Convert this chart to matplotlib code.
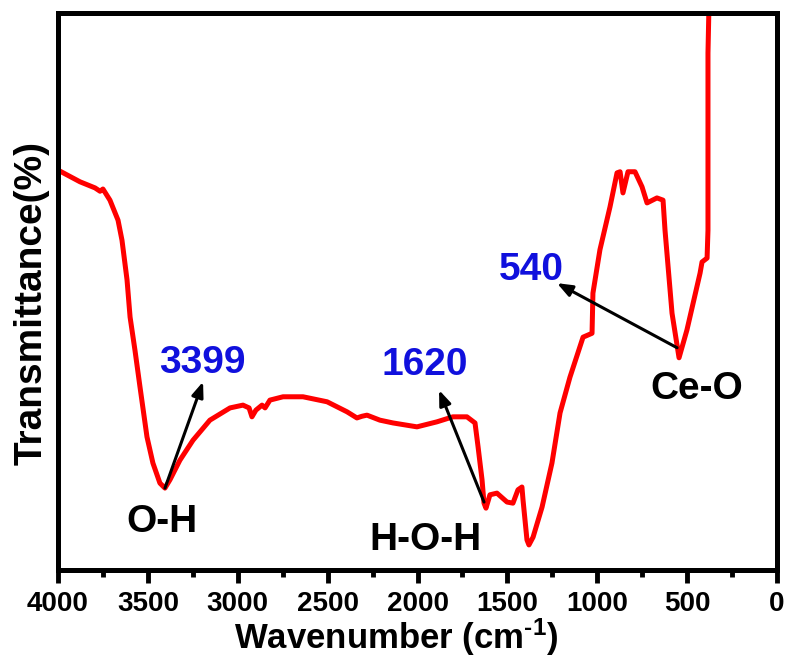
import matplotlib
matplotlib.use("Agg")
import matplotlib.pyplot as plt
from matplotlib.ticker import MultipleLocator

plt.rcParams['font.family'] = ['Liberation Sans', 'DejaVu Sans']
plt.rcParams['font.weight'] = 'bold'
plt.rcParams['mathtext.fontset'] = 'custom'
plt.rcParams['mathtext.rm'] = 'Liberation Sans:bold'
plt.rcParams['mathtext.default'] = 'rm'

# FTIR spectrum (arbitrary transmittance units, 0-100)
wavenumber = [4000, 3878, 3794, 3766, 3750, 3711, 3666, 3644, 3616, 3599,
              3572, 3544, 3505, 3472, 3433, 3405, 3377, 3322, 3249, 3155,
              3043, 2971, 2937, 2921, 2899, 2865, 2848, 2821, 2748, 2637,
              2503, 2392, 2337, 2309, 2281, 2209, 2136, 2003, 1892, 1803,
              1725, 1680, 1663, 1641, 1630, 1619, 1597, 1558, 1502, 1469,
              1441, 1419, 1413, 1391, 1380, 1357, 1307, 1252, 1207, 1152,
              1079, 1029, 1024, 985, 929, 890, 873, 857, 829, 790,
              751, 723, 668, 634, 623, 584, 545, 501, 428, 417,
              389, 384, 384, 378]
transmittance = [71.8, 69.7, 68.6, 68.0, 68.4, 66.4, 62.8, 59.2, 52.1, 45.4,
                 39.5, 32.9, 23.9, 19.2, 15.6, 14.7, 16.2, 19.7, 23.3, 26.9,
                 29.1, 29.6, 29.1, 27.5, 28.7, 29.6, 29.1, 30.5, 31.1, 31.1,
                 30.2, 28.4, 27.3, 27.6, 27.8, 26.9, 26.4, 25.7, 26.6, 27.5,
                 27.5, 26.4, 22.1, 16.2, 12.0, 11.1, 13.5, 13.8, 12.2, 12.0,
                 14.4, 14.9, 12.6, 5.4, 4.5, 5.9, 11.3, 19.2, 28.2, 34.6,
                 41.8, 42.5, 49.7, 57.5, 65.2, 71.3, 71.5, 67.7, 71.5, 71.5,
                 68.8, 65.9, 66.8, 66.4, 61.0, 46.1, 38.1, 43.1, 53.3, 55.3,
                 56.0, 61.0, 92.8, 102.0]

# peak annotations: label, label position, arrow tail, arrow head
peak_labels = ['3399', '1620', '540']
peak_text_xy = [(3199, 37.2), (1958, 36.8), (1369, 53.9)]
arrow_tail = [(3405, 14.7), (1630, 12.2), (556, 39.9)]
arrow_head = [(3193, 33.8), (1880, 32.3), (1224, 51.5)]

bond_labels = ['O-H', 'H-O-H', 'Ce-O']
bond_xy = [(3421, 8.6), (1958, 5.4), (445, 32.5)]

fig = plt.figure(figsize=(7.85, 6.61), dpi=100)
ax = fig.add_axes([58/785, 1 - 570/661, (777 - 58)/785, (570 - 13)/661])

ax.plot(wavenumber, transmittance, color='#ff0000', lw=3.6, solid_joinstyle='round')

ax.set_xlim(4000, 0)
ax.set_ylim(0, 100)
ax.xaxis.set_major_locator(MultipleLocator(500))
ax.xaxis.set_minor_locator(MultipleLocator(250))
ax.tick_params(axis='x', which='major', direction='out', length=9, width=3.5,
               labelsize=20, pad=6)
ax.tick_params(axis='x', which='minor', direction='out', length=5, width=3.5)
ax.set_yticks([])
for s in ax.spines.values():
    s.set_linewidth(3.6)

for lab in ax.get_xticklabels():
    lab.set_fontweight('bold')

ax.set_xlabel(r'Wavenumber (cm$^{\text{-1}}$)', fontsize=25, fontweight='bold', labelpad=0)
ax.xaxis.label.set_x(0.47)
ax.set_ylabel('Transmittance(%)', fontsize=28, fontweight='bold', labelpad=6)
ax.yaxis.label.set_y(0.48)

for lab, txy, tail, head in zip(peak_labels, peak_text_xy, arrow_tail, arrow_head):
    ax.text(txy[0], txy[1], lab, color='#1010dd', fontsize=28, fontweight='bold',
            ha='center', va='center')
    ax.annotate('', xy=head, xytext=tail,
                arrowprops=dict(arrowstyle='-|>,head_length=0.9,head_width=0.35',
                                color='black', lw=2.2, shrinkA=0, shrinkB=0))

for lab, xy in zip(bond_labels, bond_xy):
    ax.text(xy[0], xy[1], lab, color='black', fontsize=28, fontweight='bold',
            ha='center', va='center')

fig.savefig('out.png', dpi=100)
